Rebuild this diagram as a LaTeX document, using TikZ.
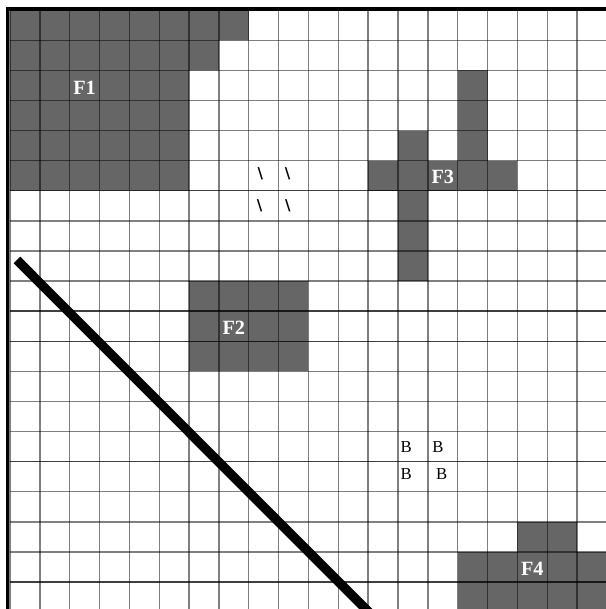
\documentclass[tikz,border=0pt]{standalone}
\usepackage{fontspec}
\setmainfont{Liberation Serif}
\newfontfamily\markfont{DejaVu Sans}

\begin{document}
\begin{tikzpicture}[
  x={(0.597cm,0)},
  y={(0,-0.602cm)},
  cell/.style={
    fill=black!60,
    draw=none
  },
  gridline/.style={
    draw=black,
    opacity=0.5,
    line width=0.8pt
  },
  zone/.style={
    text=white,
    inner sep=0pt,
    font=\bfseries\fontsize{11.5}{13}\selectfont
  },
  slashmark/.style={
    inner sep=0pt,
    font=\markfont\bfseries\fontsize{8.5}{9}\selectfont
  },
  blabel/.style={
    inner sep=0pt,
    font=\fontsize{9.5}{10}\selectfont
  }
]
  \useasboundingbox (-0.335,-0.336) rectangle (19.966,19.897);
  \clip (-0.335,-0.336) rectangle (19.966,19.897);

  \fill[cell] (0,0) -- (8,0) -- (8,1) -- (7,1) -- (7,2) -- (6,2) -- (6,6) -- (0,6) -- cycle;
  \fill[cell] (6,9) rectangle (10,12);
  \fill[cell] (15,2) rectangle (16,5);
  \fill[cell] (12,5) rectangle (17,6);
  \fill[cell] (13,4) rectangle (14,9);
  \fill[cell] (17,17) rectangle (19,18);
  \fill[cell] (15,18) rectangle (21,21);

  \foreach \i in {0,...,21}{
    \draw[gridline] (\i,0) -- (\i,21);
    \draw[gridline] (0,\i) -- (21,\i);
  }
  \foreach \r in {6,10,11,15,19}
    \draw[gridline] (0,\r) -- (21,\r);

  \draw[line width=2pt] (-0.08,21) -- (-0.08,-0.043) -- (21,-0.043);
  \draw[line width=5.3pt] (0.23,8.3) -- (13.03,21);

  \node[zone] (f1) at (2.5,2.58) {F1};
  \node[zone] (f2) at (7.5,10.55) {F2};
  \node[zone] (f3) at (14.5,5.55) {F3};
  \node[zone] (f4) at (17.5,18.55) {F4};

  \node[slashmark] (s1) at (8.39,5.43) {\textbackslash};
  \node[slashmark] (s2) at (9.30,5.43) {\textbackslash};
  \node[slashmark] (s3) at (8.36,6.50) {\textbackslash};
  \node[slashmark] (s4) at (9.31,6.50) {\textbackslash};

  \node[blabel] (b1) at (13.27,14.50) {B};
  \node[blabel] (b2) at (14.34,14.50) {B};
  \node[blabel] (b3) at (13.27,15.40) {B};
  \node[blabel] (b4) at (14.46,15.40) {B};
\end{tikzpicture}
\end{document}
